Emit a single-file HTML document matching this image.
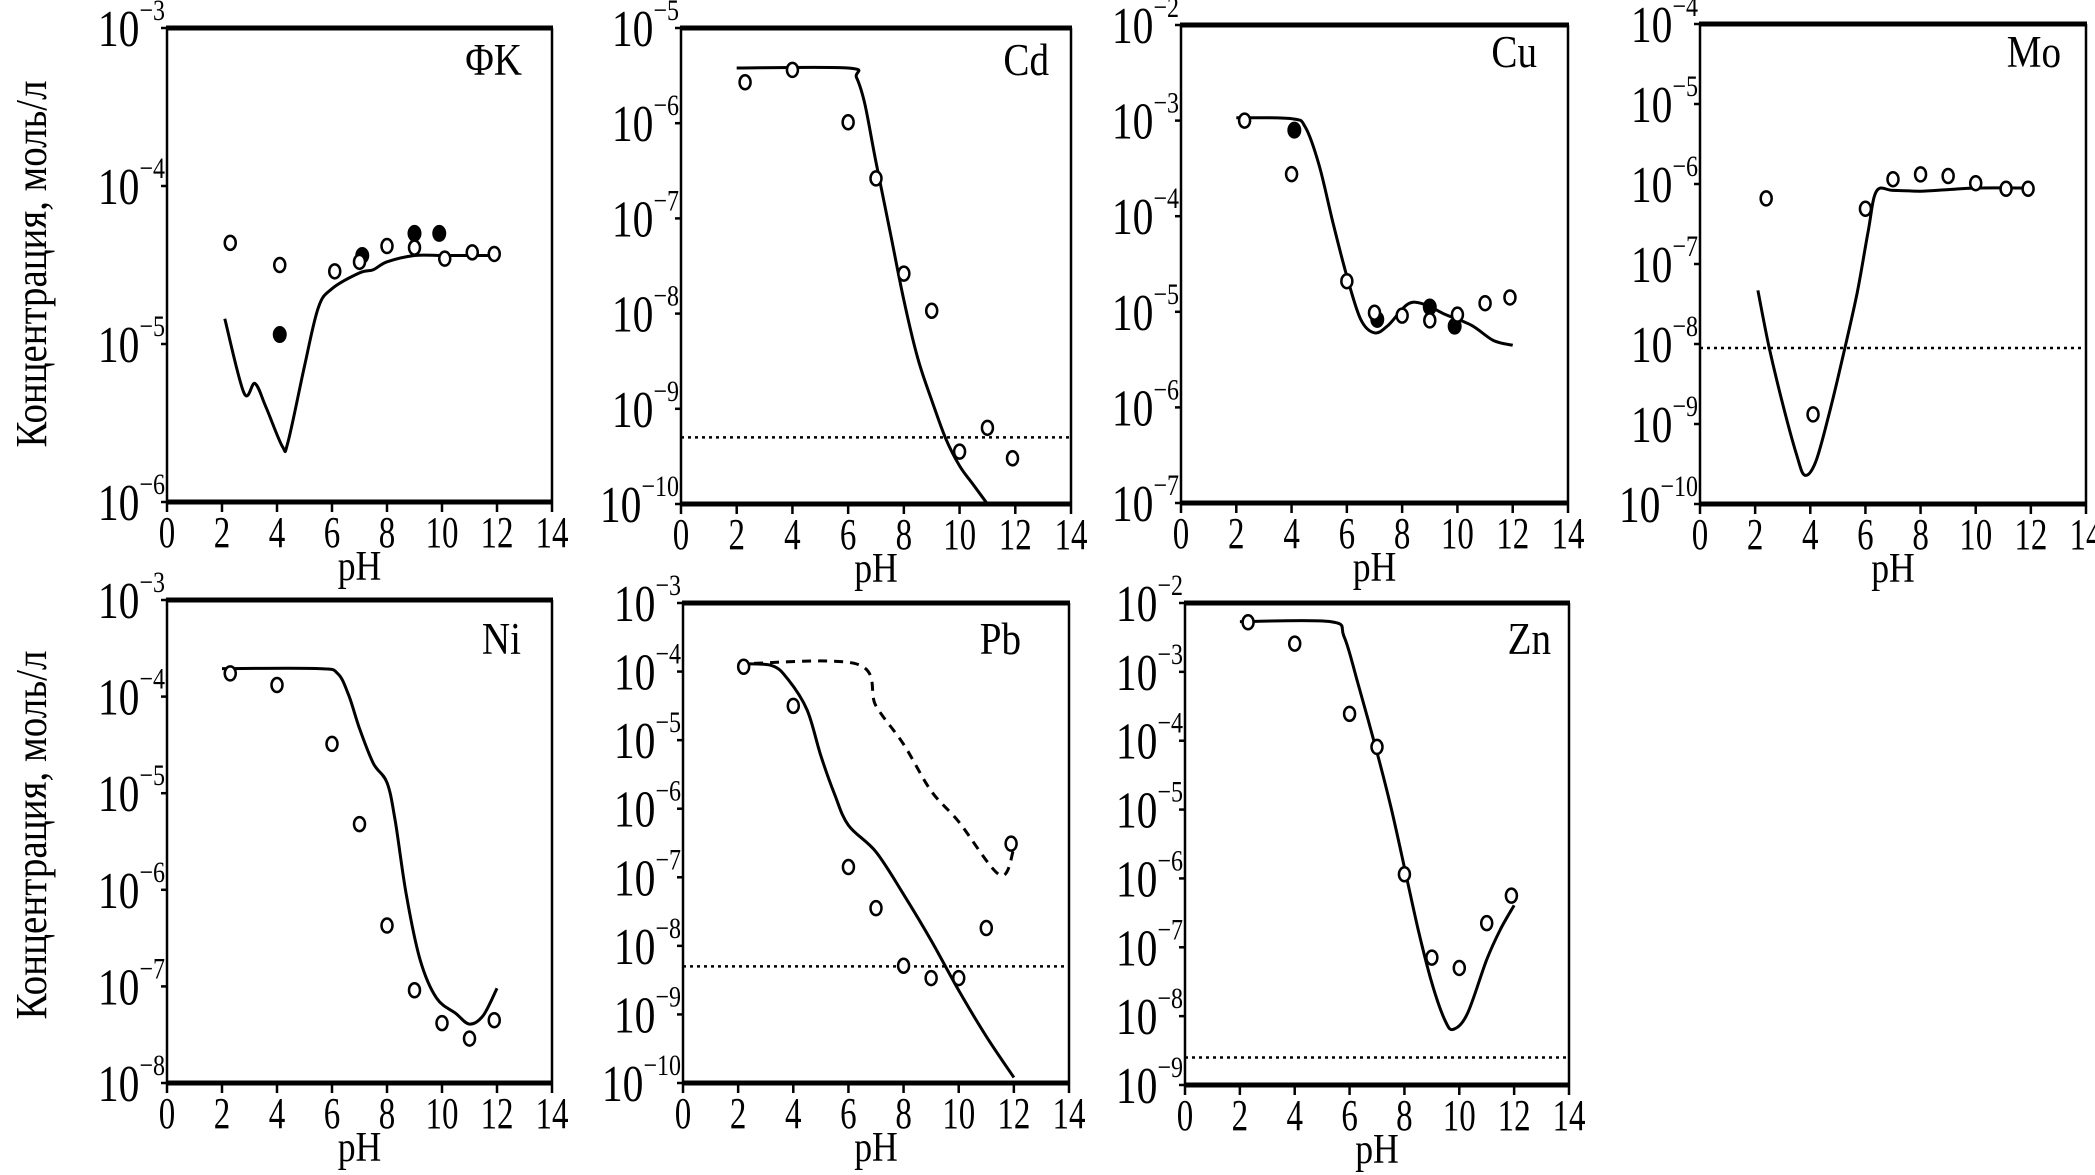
<!DOCTYPE html>
<html><head><meta charset="utf-8"><style>
html,body{margin:0;padding:0;background:#fff;}
svg{display:block;}
text{font-family:"Liberation Serif","Noto Serif CJK SC",serif;fill:#000;}
</style></head><body>
<svg id="chart" width="2095" height="1175" viewBox="0 0 2095 1175" xmlns="http://www.w3.org/2000/svg">
<text transform="translate(46,264) rotate(-90)" text-anchor="middle" font-size="44" textLength="367" lengthAdjust="spacingAndGlyphs">Концентрация,  моль/л</text>
<text transform="translate(46,835) rotate(-90)" text-anchor="middle" font-size="44" textLength="369" lengthAdjust="spacingAndGlyphs">Концентрация,  моль/л</text>
</svg>
<script>
// ---- data arrays (log10 concentration) ----
const xTicks = [0,2,4,6,8,10,12,14];
// FK
const fkOpenPH = [2.3,4.1,6.1,7.0,8.0,9.0,10.1,11.1,11.9];
const fkOpenLog = [-4.36,-4.50,-4.54,-4.48,-4.38,-4.39,-4.46,-4.42,-4.43];
const fkFilledPH = [4.1,7.1,9.0,9.9];
const fkFilledLog = [-4.94,-4.44,-4.30,-4.30];
const fkCurvePH = [2.1,2.8,3.2,3.6,4.2,4.4,5.0,5.5,6.0,7.0,7.5,8.0,9.0,10.0,11.0,12.0];
const fkCurveLog = [-4.84,-5.31,-5.25,-5.40,-5.65,-5.62,-5.14,-4.77,-4.65,-4.55,-4.53,-4.48,-4.44,-4.44,-4.44,-4.44];
// Cd
const cdOpenPH = [2.3,4.0,6.0,7.0,8.0,9.0,10.0,11.0,11.9];
const cdOpenLog = [-5.57,-5.44,-5.99,-6.58,-7.58,-7.97,-9.45,-9.20,-9.52];
const cdCurvePH = [2,6,6.3,6.6,7,7.5,8,8.5,9,9.5,10,10.5,11.2];
const cdCurveLog = [-5.42,-5.42,-5.52,-5.80,-6.41,-7.13,-7.86,-8.47,-8.91,-9.31,-9.60,-9.80,-10.08];
const cdLimit = -9.3;
// Cu
const cuOpenPH = [2.3,4.0,6.0,7.0,8.0,9.0,10.0,11.0,11.9];
const cuOpenLog = [-3.0,-3.56,-4.68,-5.01,-5.04,-5.09,-5.03,-4.91,-4.85];
const cuFilledPH = [4.1,7.1,9.0,9.9];
const cuFilledLog = [-3.10,-5.08,-4.95,-5.15];
const cuCurvePH = [2,4,4.5,5,5.5,6,6.5,7,7.5,8.2,8.8,9.5,10.5,11.3,12];
const cuCurveLog = [-2.97,-2.98,-3.07,-3.47,-4.07,-4.63,-5.08,-5.22,-5.14,-4.92,-4.92,-5.02,-5.14,-5.30,-5.35];
// Mo
const moOpenPH = [2.4,4.1,6.0,7.0,8.0,9.0,10.0,11.1,11.9];
const moOpenLog = [-6.18,-8.88,-6.31,-5.94,-5.88,-5.90,-5.99,-6.06,-6.06];
const moCurvePH = [2.1,2.5,3,3.5,3.8,4.2,4.7,5.2,5.7,6.1,6.4,7,8,9,10,12];
const moCurveLog = [-7.33,-8.03,-8.75,-9.38,-9.64,-9.47,-8.85,-8.13,-7.36,-6.59,-6.09,-6.08,-6.09,-6.07,-6.05,-6.05];
const moLimit = -8.05;
// Ni
const niOpenPH = [2.3,4.0,6.0,7.0,8.0,9.0,10.0,11.0,11.9];
const niOpenLog = [-3.76,-3.88,-4.49,-5.32,-6.37,-7.04,-7.38,-7.54,-7.35];
const niCurvePH = [2,5.5,6.2,6.6,7,7.5,8,8.3,8.7,9.2,9.8,10.5,11,11.5,12];
const niCurveLog = [-3.71,-3.71,-3.76,-3.98,-4.33,-4.69,-4.89,-5.29,-6.05,-6.72,-7.12,-7.28,-7.39,-7.30,-7.02];
// Pb
const pbOpenPH = [2.2,4.0,6.0,7.0,8.0,9.0,10.0,11.0,11.9];
const pbOpenLog = [-3.93,-4.50,-6.85,-7.45,-8.29,-8.47,-8.47,-7.74,-6.51];
const pbCurvePH = [2,3.2,3.8,4.5,5,5.5,6,7,8,9,10,11,12];
const pbCurveLog = [-3.89,-3.91,-4.11,-4.56,-5.23,-5.79,-6.24,-6.63,-7.25,-7.92,-8.65,-9.32,-9.92];
const pbDashPH = [2,6.3,7,8,9,10,11.5,12];
const pbDashLog = [-3.89,-3.89,-4.50,-5.06,-5.74,-6.19,-6.97,-6.58];
const pbLimit = -8.3;
// Zn
const znOpenPH = [2.3,4.0,6.0,7.0,8.0,9.0,10.0,11.0,11.9];
const znOpenLog = [-2.28,-2.59,-3.61,-4.09,-5.94,-7.15,-7.30,-6.65,-6.25];
const znCurvePH = [2,5.3,5.8,6.3,7,7.5,8,8.5,9,9.5,9.8,10.3,11,11.5,12];
const znCurveLog = [-2.27,-2.27,-2.49,-3.16,-4.17,-4.95,-5.84,-6.74,-7.52,-8.08,-8.19,-7.96,-7.18,-6.74,-6.39];
const znLimit = -8.6;

const NS = "http://www.w3.org/2000/svg";
const svg = document.getElementById('chart');
function mk(tag, attrs, parent){
  const e = document.createElementNS(NS, tag);
  for (const k in attrs) e.setAttribute(k, attrs[k]);
  (parent||svg).appendChild(e);
  return e;
}
const panels = [
  {id:'fk', label:'ΦK', x0:167,x1:552,y0:28,y1:502,lmin:-6,lmax:-3, lx:522,ly:75, open:[fkOpenPH,fkOpenLog], filled:[fkFilledPH,fkFilledLog], curve:[fkCurvePH,fkCurveLog]},
  {id:'cd', label:'Cd', x0:681,x1:1071,y0:28,y1:504,lmin:-10,lmax:-5, lx:1049,ly:75, open:[cdOpenPH,cdOpenLog], curve:[cdCurvePH,cdCurveLog], limit:cdLimit},
  {id:'cu', label:'Cu', x0:1181,x1:1568,y0:25,y1:503,lmin:-7,lmax:-2, lx:1537,ly:67, open:[cuOpenPH,cuOpenLog], filled:[cuFilledPH,cuFilledLog], curve:[cuCurvePH,cuCurveLog]},
  {id:'mo', label:'Mo', x0:1700,x1:2086,y0:24,y1:504,lmin:-10,lmax:-4, lx:2061,ly:67, open:[moOpenPH,moOpenLog], curve:[moCurvePH,moCurveLog], limit:moLimit},
  {id:'ni', label:'Ni', x0:167,x1:552,y0:600,y1:1083,lmin:-8,lmax:-3, lx:521,ly:654, open:[niOpenPH,niOpenLog], curve:[niCurvePH,niCurveLog]},
  {id:'pb', label:'Pb', x0:683,x1:1069,y0:603,y1:1083,lmin:-10,lmax:-3, lx:1021,ly:654, open:[pbOpenPH,pbOpenLog], curve:[pbCurvePH,pbCurveLog], dash:[pbDashPH,pbDashLog], limit:pbLimit},
  {id:'zn', label:'Zn', x0:1185,x1:1569,y0:603,y1:1085,lmin:-9,lmax:-2, lx:1551,ly:654, open:[znOpenPH,znOpenLog], curve:[znCurvePH,znCurveLog], limit:znLimit}
];
function smoothPath(pts){
  let d = 'M' + pts[0][0].toFixed(1) + ',' + pts[0][1].toFixed(1);
  for (let i=0;i<pts.length-1;i++){
    const p0 = pts[i-1]||pts[i], p1 = pts[i], p2 = pts[i+1], p3 = pts[i+2]||p2;
    const c1x = p1[0] + (p2[0]-p0[0])/6, c1y = p1[1] + (p2[1]-p0[1])/6;
    const c2x = p2[0] - (p3[0]-p1[0])/6, c2y = p2[1] - (p3[1]-p1[1])/6;
    d += ` C${c1x.toFixed(1)},${c1y.toFixed(1)} ${c2x.toFixed(1)},${c2y.toFixed(1)} ${p2[0].toFixed(1)},${p2[1].toFixed(1)}`;
  }
  return d;
}
panels.forEach(p=>{
  const g = mk('g',{});
  
  
  const xs = v => p.x0 + (v/14)*(p.x1-p.x0);
  const ys = l => p.y0 + (p.lmax - l)/(p.lmax-p.lmin)*(p.y1-p.y0);
  const clipId = 'clip-'+p.id;
  const cp = mk('clipPath',{id:clipId}, g);
  mk('rect',{x:p.x0,y:p.y0,width:p.x1-p.x0,height:p.y1-p.y0}, cp);
  const fr = mk('g',{}, g);
  
  
  mk('line',{x1:p.x0,y1:p.y0,x2:p.x0,y2:p.y1,stroke:'#000','stroke-width':2.5}, fr);
  mk('line',{x1:p.x1,y1:p.y0,x2:p.x1,y2:p.y1,stroke:'#000','stroke-width':2.5}, fr);
  mk('line',{x1:p.x0-1,y1:p.y0,x2:p.x1+1,y2:p.y0,stroke:'#000','stroke-width':5}, fr);
  mk('line',{x1:p.x0-1,y1:p.y1,x2:p.x1+1,y2:p.y1,stroke:'#000','stroke-width':5}, fr);
  xTicks.forEach(t=>{
    const x = xs(t);
    mk('line',{x1:x,y1:p.y1,x2:x,y2:p.y1+10,stroke:'#000','stroke-width':2.5}, g);
    const tx = mk('text',{transform:`translate(${x},${p.y1+45}) scale(0.75,1)`,'text-anchor':'middle','font-size':44}, g);
    tx.textContent = t;
    
    
  });
  const xl = mk('text',{transform:`translate(${(p.x0+p.x1)/2},${p.y1+78}) scale(0.85,1)`,'text-anchor':'middle','font-size':42}, g);
  xl.textContent = 'pH';
  
  
  for (let l=p.lmin; l<=p.lmax; l++){
    const y = ys(l);
    mk('line',{x1:p.x0-6,y1:y,x2:p.x0,y2:y,stroke:'#000','stroke-width':2.5}, g);
    const tx = mk('text',{transform:`translate(${p.x0-2},${y+18}) scale(0.8,1)`,'text-anchor':'end','font-size':52}, g);
    const t1 = mk('tspan',{}, tx); t1.textContent = '10';
    const t2 = mk('tspan',{'font-size':30,dy:-26}, tx); t2.textContent = '−' + (-l);
    
    
  }
  const lb = mk('text',{transform:`translate(${p.lx},${p.ly}) scale(0.85,1)`,'text-anchor':'end','font-size':46}, g);
  lb.textContent = p.label;
  
  
  const inner = mk('g',{'clip-path':`url(#${clipId})`}, g);
  if (p.limit !== undefined){
    const ln = mk('line',{x1:p.x0,y1:ys(p.limit),x2:p.x1,y2:ys(p.limit),stroke:'#000','stroke-width':2.5,'stroke-dasharray':'3,4'}, inner);
    
    
  }
  const ptsOf = a => a[0].map((v,i)=>[xs(v), ys(a[1][i])]);
  const cv = mk('path',{d:smoothPath(ptsOf(p.curve)),fill:'none',stroke:'#000','stroke-width':3,'stroke-linejoin':'round'}, inner);
  
  
  if (p.dash){
    const dv = mk('path',{d:smoothPath(ptsOf(p.dash)),fill:'none',stroke:'#000','stroke-width':3,'stroke-dasharray':'9,7'}, inner);
    
    
  }
  if (p.filled){
    p.filled[0].forEach((v,i)=>{
      const c = mk('ellipse',{cx:xs(v),cy:ys(p.filled[1][i]),rx:6,ry:7.5,fill:'#000',stroke:'#000','stroke-width':2}, g);
      
      
    });
  }
  p.open[0].forEach((v,i)=>{
    const c = mk('ellipse',{cx:xs(v),cy:ys(p.open[1][i]),rx:5.5,ry:7,fill:'#fff',stroke:'#000','stroke-width':2.5}, g);
    
    
  });
});
</script>
</body></html>
